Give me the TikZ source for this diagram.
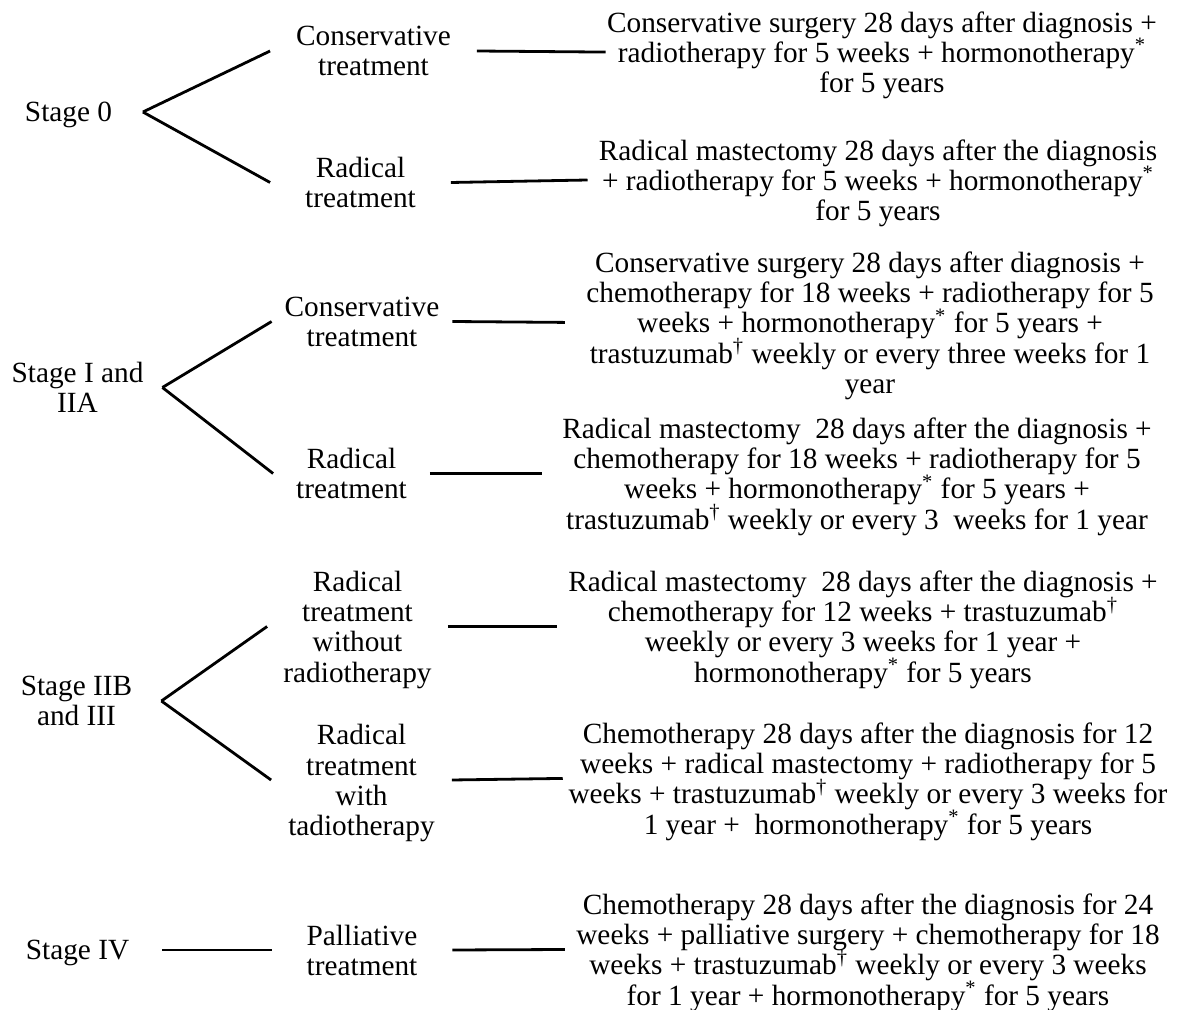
\documentclass[tikz,border=0pt]{standalone}
\usepackage{fontspec}
\setmainfont{Liberation Serif}
\usepackage{tikz}

\newcommand{\hstar}{\smash{\textsuperscript{*}}}
\newcommand{\hdag}{\smash{\textsuperscript{\textdagger}}}

\begin{document}
\begin{tikzpicture}[x=0.5pt, y=-0.5pt, line width=1.4pt,
	every node/.style={align=center, inner sep=0pt, text depth=0pt, font=\fontsize{14.65}{15.15}\selectfont},
	stage/.style={minimum width=83.5pt},
	treat/.style={minimum width=89pt},
	res/.style={inner xsep=5pt}]
	\useasboundingbox (0,0) rectangle (1185,1010);

	% stages
	\node[stage, minimum width=73pt](S0) at (68.5,112){Stage 0};
	\node[stage](S1) at (77.5,387.5){Stage I and\\IIA};
	\node[stage](S2) at (76.5,701){Stage IIB\\and III};
	\node[stage](S4) at (77.5,950){Stage IV};

	% treatments
	\node[treat, minimum width=102pt](C0) at (373.5,51){Conservative\\treatment};
	\node[treat](R0) at (360.5,182.5){Radical\\treatment};
	\node[treat](C1) at (362,321.5){Conservative\\treatment};
	\node[treat, minimum width=77pt](R1) at (351.5,473.5){Radical\\treatment};
	\node[treat](W2) at (357.5,626.5){Radical\\treatment\\without\\radiotherapy};
	\node[treat](T2) at (361.5,780){Radical\\treatment\\with\\tadiotherapy};
	\node[treat](P4) at (362,950){Palliative\\treatment};

	% schedules
	\node[res](X0) at (882,52){Conservative surgery 28 days after diagnosis +\\
		radiotherapy for 5 weeks + hormonotherapy\hstar\\
		for 5 years};
	\node[res](Y0) at (878,180){Radical mastectomy 28 days after the diagnosis\\
		+ radiotherapy for 5 weeks + hormonotherapy\hstar\\
		for 5 years};
	\node[res](X1) at (870,322.5){Conservative surgery 28 days after diagnosis +\\
		chemotherapy for 18 weeks + radiotherapy for 5\\
		weeks + hormonotherapy\hstar{} for 5 years +\\
		trastuzumab\hdag{} weekly or every three weeks for 1\\
		year};
	\node[res](Y1) at (857,473.5){Radical mastectomy\ \ 28 days after the diagnosis +\\
		chemotherapy for 18 weeks + radiotherapy for 5\\
		weeks + hormonotherapy\hstar{} for 5 years +\\
		trastuzumab\hdag{} weekly or every 3\ \ weeks for 1 year};
	\node[res](X2) at (863,626.5){Radical mastectomy\ \ 28 days after the diagnosis +\\
		chemotherapy for 12 weeks + trastuzumab\hdag\\
		weekly or every 3 weeks for 1 year +\\
		hormonotherapy\hstar{} for 5 years};
	\node[res](Y2) at (868,778.5){Chemotherapy 28 days after the diagnosis for 12\\
		weeks + radical mastectomy + radiotherapy for 5\\
		weeks + trastuzumab\hdag{} weekly or every 3 weeks for\\
		1 year +\ \ hormonotherapy\hstar{} for 5 years};
	\node[res](X4) at (868,949.5){Chemotherapy 28 days after the diagnosis for 24\\
		weeks + palliative surgery + chemotherapy for 18\\
		weeks + trastuzumab\hdag{} weekly or every 3 weeks\\
		for 1 year + hormonotherapy\hstar{} for 5 years};

	% branches
	\draw (S0.east) -- (C0.west);
	\draw (S0.east) -- (R0.west);
	\draw (S1.east) -- (C1.west);
	\draw (S1.east) -- (R1.west);
	\draw (S2.east) -- (W2.west);
	\draw (S2.east) -- (T2.west);
	\draw (S4.east) -- (P4.west);

	\draw[shorten >=-5pt] (C0.east) -- (X0.west);
	\draw (R0.east) -- (Y0.west);
	\draw[shorten >=5pt] (C1.east) -- (X1.west);
	\draw[shorten >=4.5pt] (R1.east) -- (Y1.west);
	\draw (W2.east) -- (X2.west);
	\draw[shorten >=-2.8pt] (T2.east) -- (Y2.west);
	\draw (P4.east) -- (X4.west);
\end{tikzpicture}
\end{document}
